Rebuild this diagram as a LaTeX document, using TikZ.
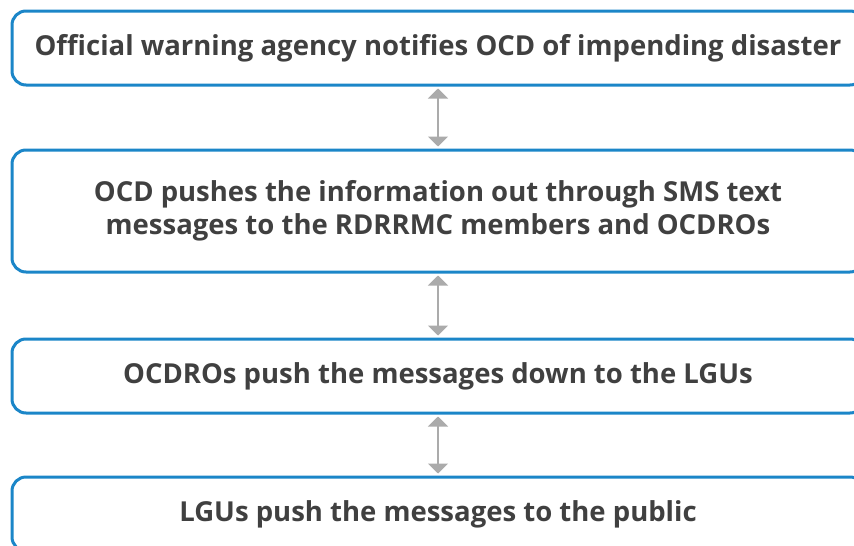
\documentclass[tikz,border=0pt]{standalone}
\usepackage{fontspec}
\setmainfont{Open Sans}
\usepackage{xcolor}
\usepackage{tikz}
\usetikzlibrary{arrows.meta, positioning}
\definecolor{boxblue}{HTML}{1B86C8}
\definecolor{txtgray}{HTML}{404040}
\definecolor{arrgray}{HTML}{ABABAB}

\begin{document}
\begin{tikzpicture}[
    x=1pt, y=1pt,
    stepbox/.style={draw=boxblue, line width=3pt, rounded corners=14pt, fill=white,
                    minimum width=852pt, minimum height=74pt, align=center,
                    text=txtgray, font=\fontsize{27.5}{33}\selectfont\bfseries},
    link/.style={{Triangle[width=20pt,length=10pt]}-{Triangle[width=20pt,length=10pt]},
                 draw=arrgray, line width=1.8pt, shorten >=2pt, shorten <=2pt}
]
\clip (0,0) rectangle (854,-546);
\useasboundingbox (0,0) rectangle (854,-546);
\node[stepbox] (warn) at (438,-48) {Official warning agency notifies OCD of impending disaster};
\node[stepbox, minimum height=122pt, below=62pt of warn] (sms)
  {OCD pushes the information out through SMS text\\messages to the RDRRMC members and OCDROs};
\node[stepbox, below=64pt of sms]  (lgu) {OCDROs push the messages down to the LGUs};
\node[stepbox, below=61pt of lgu]  (pub) {LGUs push the messages to the public};
\draw[link] (warn) -- (sms);
\draw[link] (sms) -- (lgu);
\draw[link] (lgu) -- (pub);
\end{tikzpicture}
\end{document}
